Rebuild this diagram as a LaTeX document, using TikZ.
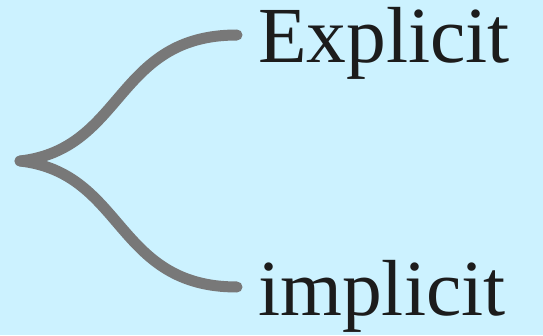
\documentclass[tikz,border=0pt]{standalone}
\usepackage{fontspec}
\setmainfont{Liberation Serif}
\definecolor{bgblue}{RGB}{204,242,255}
\definecolor{branchgray}{RGB}{120,120,120}
\definecolor{ink}{RGB}{28,28,28}
\tikzset{
  branch/.style={draw=branchgray, line width=11pt, line cap=round},
  label/.style={anchor=base west, inner sep=0pt, text=ink, font=\fontsize{79.5}{80}\selectfont},
}
\begin{document}
\begin{tikzpicture}[x=1pt,y=1pt]
  \fill[bgblue] (0,0) rectangle (543,335);
  \useasboundingbox (0,0) rectangle (543,335);
  % fork point and branch ends
  \coordinate (root) at (20,174);
  \coordinate (upper) at (237,300);
  \coordinate (lower) at (237,48);
  % labels
  \node[label] (exp) at (258,272) {Explicit};
  \node[label] (imp) at (258,20) {implicit};
  % branches
  \draw[branch] (root) .. controls (125,186) and (115,300) .. (upper);
  \draw[branch] (root) .. controls (125,162) and (115,48) .. (lower);
\end{tikzpicture}
\end{document}
